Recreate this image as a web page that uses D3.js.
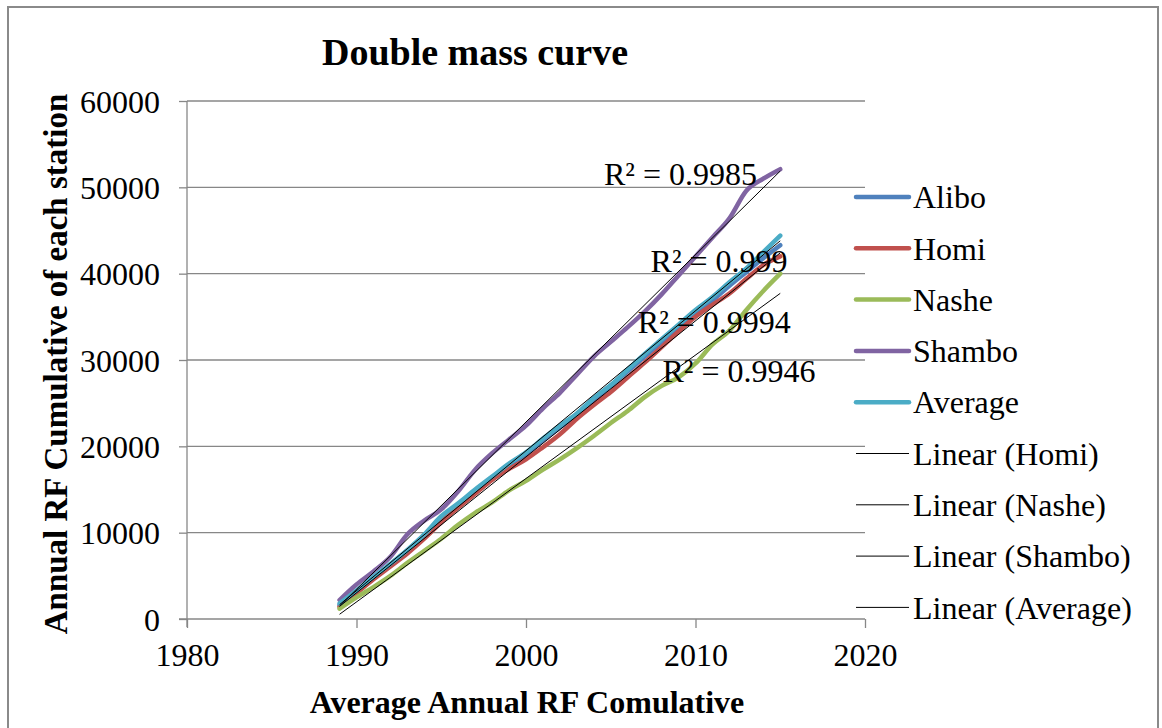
<!DOCTYPE html>
<html><head><meta charset="utf-8">
<script src="https://cdn.jsdelivr.net/npm/d3@7"></script>
<style>
html,body{margin:0;padding:0;background:#fff;}
svg{display:block;font-family:"Liberation Serif","Times New Roman",serif;}
</style>
</head><body>
<svg id="chart" width="1162" height="728"></svg>
<script>
// ---- data ----
const years = [1989,1990,1991,1992,1993,1994,1995,1996,1997,1998,1999,2000,2001,2002,2003,2004,2005,2006,2007,2008,2009,2010,2011,2012,2013,2014,2015];
const alibo   = [1600,3100,4700,6200,7800,9500,11600,13200,14800,16300,17800,19100,20700,22200,23700,25400,27000,28700,30400,32100,33800,35400,36900,38600,40200,41800,43300];
const homi    = [1400,3000,4600,6100,7600,9300,11200,12900,14500,16100,17400,18500,19900,21400,23200,24800,26300,28000,29700,31500,33300,35000,36400,37700,39400,41000,42000];
const nashe   = [1200,2500,3700,5000,6500,7900,9300,10900,12300,13500,14900,16000,17300,18500,19800,21200,22700,24100,25700,27000,28000,29600,31800,33400,35800,38000,40000];
const shambo  = [2200,4000,5500,7200,9800,11400,12700,14800,17300,19200,20800,22400,24400,26200,28300,30400,32100,33800,35600,37600,39800,42000,44200,46400,49600,51000,52100];
const average = [1800,3300,4900,6400,8000,9800,11900,13400,15000,16500,18000,19300,20900,22400,23800,25600,27100,28900,30700,32400,34100,35800,37300,39000,40600,42500,44400];
const xTicks = [1980,1990,2000,2010,2020];
const yTicks = [0,10000,20000,30000,40000,50000,60000];
const seriesNames = ["Alibo","Homi","Nashe","Shambo","Average"];
const trendNames = ["Homi","Nashe","Shambo","Average"];
const r2Texts = ["R\u00B2 = 0.9985","R\u00B2 = 0.999","R\u00B2 = 0.9994","R\u00B2 = 0.9946"];
// label anchors in data units (year, value)
const r2Anchors = [[2004.6,50290],[2007.35,40210],[2006.6,33140],[2008.05,27460]];

const seriesValues = {Alibo:alibo, Homi:homi, Nashe:nashe, Shambo:shambo, Average:average};
const colors = {Alibo:"#4F81BD", Homi:"#C0504D", Nashe:"#9BBB59", Shambo:"#8064A2", Average:"#4BACC6"};

const svg = d3.select("#chart");
const x = d3.scaleLinear().domain([1980,2020]).range([187,865]);
const y = d3.scaleLinear().domain([0,60000]).range([619,101]);

// outer border
svg.append("rect").attr("x",8).attr("y",7).attr("width",1150).attr("height",740)
  .attr("fill","#fff").attr("stroke","#8a8a8a").attr("stroke-width",2);

// gridlines
svg.append("g").selectAll("line").data(yTicks.filter(d=>d>0)).join("line")
  .attr("x1",x(1980)).attr("x2",x(2020)).attr("y1",d=>y(d)).attr("y2",d=>y(d))
  .attr("stroke","#878787").attr("stroke-width",1.3);

// axes
const gy = svg.append("g").attr("transform",`translate(${x(1980)},0)`)
  .call(d3.axisLeft(y).tickValues(yTicks).tickSize(8).tickPadding(19).tickFormat(d3.format("d")));
const gx = svg.append("g").attr("transform",`translate(0,${y(0)})`)
  .call(d3.axisBottom(x).tickValues(xTicks).tickSize(9).tickPadding(9).tickFormat(d3.format("d")));
[gy,gx].forEach(g=>{
  g.select(".domain").attr("stroke","#878787").attr("stroke-width",1.3);
  g.selectAll(".tick line").attr("stroke","#878787").attr("stroke-width",1.3);
  g.selectAll("text").attr("font-family","Liberation Serif").attr("font-size",32).attr("fill","#000");
});
gy.select(".domain").attr("d",`M0,${y(60000)}V${y(0)+8}`);
gx.select(".domain").attr("d",`M${x(1980)-8},0H${x(2020)}`);
gy.selectAll(".tick text").attr("dy","0.35em");
gx.selectAll(".tick text").attr("dy","0.9em");

// series lines
const line = d3.line().x((d,i)=>x(years[i])).y(d=>y(d)).curve(d3.curveMonotoneX);
seriesNames.forEach(n=>{
  svg.append("path").datum(seriesValues[n]).attr("d",line)
    .attr("fill","none").attr("stroke",colors[n]).attr("stroke-width",4.5)
    .attr("stroke-linejoin","round").attr("stroke-linecap","round");
});

// linear trend lines (least squares)
function fit(vals){
  const mx = d3.mean(years), my = d3.mean(vals);
  let sxy=0, sxx=0;
  years.forEach((t,i)=>{ sxy += (t-mx)*(vals[i]-my); sxx += (t-mx)*(t-mx); });
  const b = sxy/sxx, a = my - b*mx;
  return t => a + b*t;
}
trendNames.forEach(n=>{
  const f = fit(seriesValues[n]);
  const x0 = years[0], x1 = years[years.length-1];
  svg.append("line").attr("x1",x(x0)).attr("y1",y(f(x0))).attr("x2",x(x1)).attr("y2",y(f(x1)))
    .attr("stroke","#000").attr("stroke-width",1);
});

// R² labels
svg.append("g").selectAll("text").data(r2Texts).join("text")
  .attr("x",(d,i)=>x(r2Anchors[i][0])).attr("y",(d,i)=>y(r2Anchors[i][1]))
  .attr("font-size",32).attr("fill","#000").text(d=>d);

// legend
const legendItems = seriesNames.map(n=>({label:n, color:colors[n], w:4.5}))
  .concat(trendNames.map(n=>({label:`Linear (${n})`, color:"#000", w:1})));
const lg = svg.append("g");
legendItems.forEach((it,i)=>{
  const yy = 197 + i*51.3;
  lg.append("line").attr("x1",856).attr("x2",909).attr("y1",yy).attr("y2",yy)
    .attr("stroke",it.color).attr("stroke-width",it.w).attr("stroke-linecap",it.w>1?"round":"butt");
  lg.append("text").attr("x",913).attr("y",yy).attr("dy","0.35em").attr("font-size",32).text(it.label);
});

// titles
svg.append("text").attr("x",475).attr("y",65).attr("text-anchor","middle")
  .attr("font-size",38).attr("font-weight","bold").text("Double mass curve");
svg.append("text").attr("transform","translate(67,364) rotate(-90)").attr("text-anchor","middle")
  .attr("font-size",33).attr("font-weight","bold").text("Annual RF Cumulative of each station");
svg.append("text").attr("x",527).attr("y",713).attr("text-anchor","middle")
  .attr("font-size",32).attr("font-weight","bold").text("Average Annual RF Comulative");
</script>
</body></html>
